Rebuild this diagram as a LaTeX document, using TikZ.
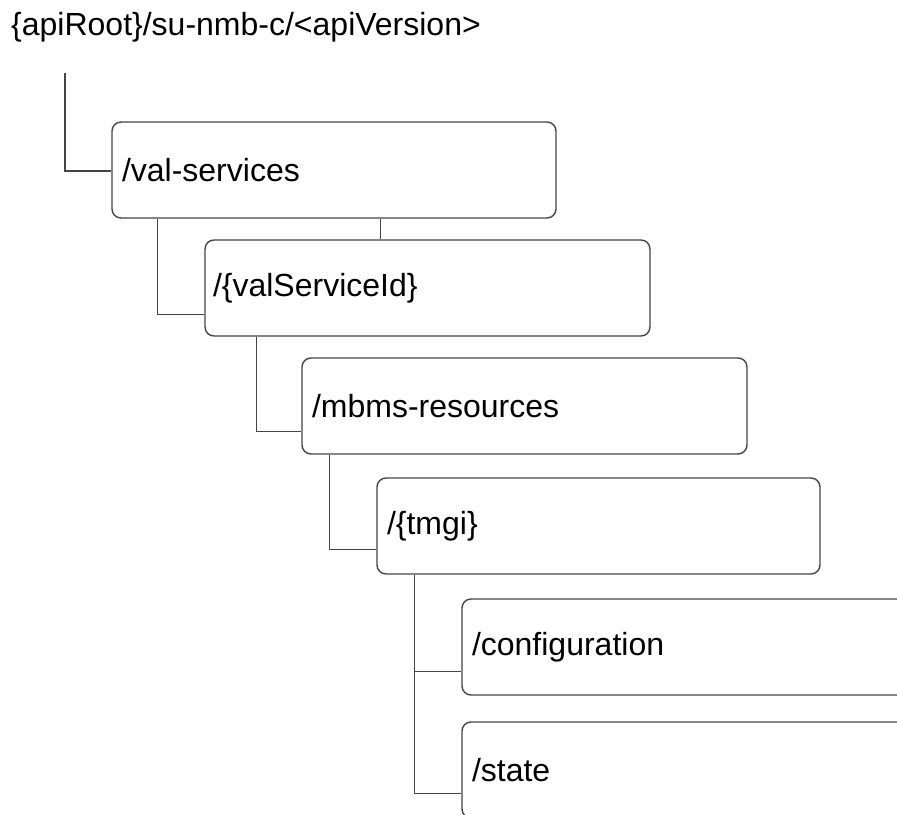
\documentclass[tikz,border=0pt]{standalone}
\usepackage{fontspec}
\setmainfont{Liberation Sans}
\tikzset{
  res/.style={draw=linec, line width=1.4pt, rounded corners=9pt, rectangle,
    minimum width=445pt, minimum height=96pt, text width=425pt, inner xsep=10pt,
    align=left, font=\fontsize{32}{37}\selectfont, text=black},
  conn/.style={draw=linec, line width=1.4pt}
}
\definecolor{linec}{HTML}{454545}
\begin{document}
\begin{tikzpicture}[x=1pt,y=-1pt]
\clip (0,0) rectangle (897,814);
\node[anchor=base west, inner sep=0pt, font=\fontsize{32}{37}\selectfont] (root) at (11,35) {\{apiRoot\}/su-nmb-c/<apiVersion>};
\coordinate (rootl) at (65,73);
\node[res, minimum width=444pt, text width=424pt] (vs) at (334,170) {/val-services};
\node[res, inner xsep=8pt, text width=429pt] (vsid) at (427.5,288) {/\{valServiceId\}};
\node[res] (mbms) at (524.5,406) {/mbms-resources};
\node[res, minimum width=443pt, text width=423pt] (tmgi) at (598.5,526) {/\{tmgi\}};
\node[res] (conf) at (684.5,647) {/configuration};
\node[res] (state) at (684.5,770) {/state};
\draw[conn] (rootl) |- ([yshift=-1pt]vs.west);
\draw[conn] ([xshift=46pt]vs.south west) |- ([yshift=22pt]vsid.south west);
\draw[conn] ([xshift=269pt]vs.south west) -- ([xshift=176pt]vsid.north west);
\draw[conn] ([xshift=52pt]vsid.south west) |- ([yshift=23pt]mbms.south west);
\draw[conn] ([xshift=28pt]mbms.south west) |- ([yshift=25pt]tmgi.south west);
\draw[conn] ([xshift=38pt]tmgi.south west) |- ([yshift=24pt]conf.south west);
\draw[conn] ([xshift=38pt]tmgi.south west) |- ([yshift=25pt]state.south west);
\end{tikzpicture}
\end{document}
